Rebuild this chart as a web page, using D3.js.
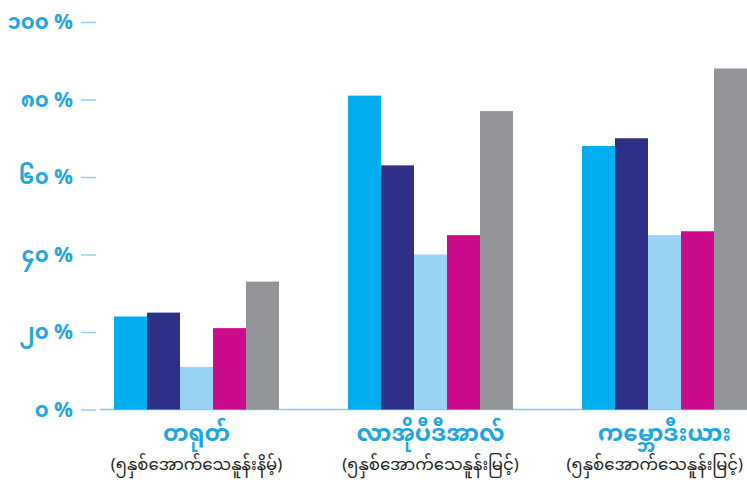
<!DOCTYPE html>
<html>
<head>
<meta charset="utf-8">
<style>
  *{margin:0;padding:0;box-sizing:border-box}
  body{background:#fff;width:747px;height:480px;overflow:hidden}
  svg{display:block}
</style>
</head>
<body>
<svg id="chart"></svg>
<script src="https://cdn.jsdelivr.net/npm/d3@7/dist/d3.min.js"></script>
<script>
// data
const countries = ['တရုတ်', 'လာအိုပီဒီအာလ်', 'ကမ္ဘောဒီးယား'];
const notes = ['(၅နှစ်အောက်သေနူန်းနိမ့်)', '(၅နှစ်အောက်သေနူန်းမြင့်)', '(၅နှစ်အောက်သေနူန်းမြင့်)'];
const series = ['s1', 's2', 's3', 's4', 's5'];
const values = [
  [24, 25, 11, 21, 33],
  [81, 63, 40, 45, 77],
  [68, 70, 45, 46, 88]
];
const tickValues = [0, 20, 40, 60, 80, 100];
const tickLabels = ['၀ %', '၂၀ %', '၄၀ %', '၆၀ %', '၈၀ %', '၁၀၀ %'];

const COLORS = ['#00aeef', '#2e3087', '#9bd3f4', '#cc0a8c', '#929497'];
const CYAN = '#1fa6e2';
const FONT = '"Noto Sans Myanmar", Padauk, "Noto Sans", sans-serif';

const W = 747, H = 480;
const svg = d3.select('#chart').attr('width', W).attr('height', H);

const y = d3.scaleLinear().domain([0, 100]).range([409.5, 22]);
const x0 = d3.scaleBand().domain(d3.range(countries.length)).range([114, 747]).paddingInner(69 / 234).paddingOuter(0);
const x1 = d3.scaleBand().domain(series).range([0, x0.bandwidth()]);
const color = d3.scaleOrdinal().domain(series).range(COLORS);

// baseline
svg.append('line')
  .attr('x1', 100).attr('x2', W).attr('y1', y(0)).attr('y2', y(0))
  .attr('stroke', '#7fcbef').attr('stroke-width', 1.5);

// y axis: short ticks + labels, no domain line
const yAxis = svg.append('g')
  .attr('transform', 'translate(96,0)')
  .call(d3.axisLeft(y).tickValues(tickValues).tickSize(15).tickPadding(8)
    .tickFormat((d, i) => tickLabels[i]));
yAxis.select('.domain').remove();
yAxis.selectAll('.tick line').attr('stroke', '#8fd0f0').attr('stroke-width', 1.5);
yAxis.selectAll('.tick text')
  .attr('fill', CYAN)
  .style('font-family', FONT)
  .style('font-size', '21px').style('font-weight', 'bold');

// bars
const groups = svg.append('g').selectAll('g')
  .data(values).join('g')
  .attr('transform', (d, i) => `translate(${x0(i)},0)`);
groups.selectAll('rect')
  .data(d => d.map((v, j) => ({ key: series[j], v })))
  .join('rect')
  .attr('x', d => x1(d.key))
  .attr('width', x1.bandwidth())
  .attr('y', d => y(d.v))
  .attr('height', d => y(0) - y(d.v))
  .attr('fill', d => color(d.key));

// category labels
const labels = svg.append('g').selectAll('g')
  .data(countries).join('g')
  .attr('transform', (d, i) => `translate(${x0(i) + x0.bandwidth() / 2},0)`);
labels.append('text')
  .attr('y', 441).attr('text-anchor', 'middle')
  .attr('fill', CYAN)
  .style('font-family', FONT)
  .style('font-size', '23px').style('font-weight', 'bold')
  .text(d => d);
labels.append('text')
  .attr('y', 470).attr('text-anchor', 'middle')
  .attr('fill', '#231f20')
  .style('font-family', FONT)
  .style('font-size', '16.5px')
  .text((d, i) => notes[i]);

// keep labels inside the right edge
labels.selectAll('text').each(function () {
  const b = this.getBBox();
  const cx = x0(countries.indexOf(d3.select(this.parentNode).datum())) + x0.bandwidth() / 2;
  const over = cx + b.x + b.width - (W - 4);
  if (over > 0) d3.select(this).attr('x', -over);
});
</script>
</body>
</html>
